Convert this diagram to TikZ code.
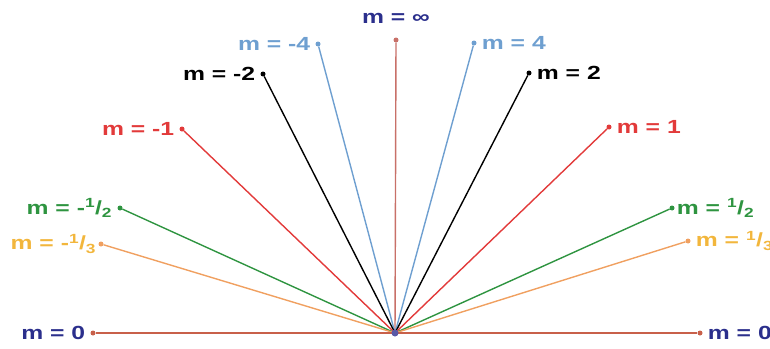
\documentclass[tikz,border=0pt]{standalone}
\usepackage{fontspec}
\setmainfont{Liberation Sans}
\newfontfamily\tagfont[FakeStretch=1.3]{Liberation Sans}
\usepackage{xcolor}
\usetikzlibrary{positioning}
\definecolor{navy}{HTML}{2B2F8C}
\definecolor{infline}{HTML}{C87068}
\definecolor{zeroline}{HTML}{C8604A}
\definecolor{skyblue}{HTML}{6E9FD0}
\definecolor{redline}{HTML}{E23A3A}
\definecolor{greenline}{HTML}{2E9440}
\definecolor{orangeline}{HTML}{F0A060}
\definecolor{orangetext}{HTML}{F2B63C}
\tikzset{
    slope/.style={line width=1.4pt},
    dot/.style={circle, fill, inner sep=0pt, minimum size=5pt},
    tag/.style={font=\tagfont\fontsize{19}{21}\selectfont\bfseries, inner sep=1pt},
}

\begin{document}
\begin{tikzpicture}[x=1pt, y=-1pt, node distance=4pt]
    \useasboundingbox (0,0) rectangle (770,348);
    \clip (0,0) rectangle (770,348);
    \coordinate (o) at (395,333);

    % end points
    \node[dot, infline] (pinf) at (396,40) {};
    \node[dot, skyblue] (pfour) at (474,43) {};
    \node[dot, skyblue] (mfour) at (318,44) {};
    \node[dot, black] (ptwo) at (529,73) {};
    \node[dot, black] (mtwo) at (263,74) {};
    \node[dot, redline] (pone) at (609,127) {};
    \node[dot, redline] (mone) at (182,129) {};
    \node[dot, greenline] (phalf) at (672,208) {};
    \node[dot, greenline] (mhalf) at (120,208) {};
    \node[dot, orangeline] (pthird) at (688,241) {};
    \node[dot, orangeline] (mthird) at (101,244) {};
    \node[dot, zeroline] (pzero) at (700,333) {};
    \node[dot, zeroline] (mzero) at (93,333) {};

    % labels
    \node[tag, navy, above=13pt of pinf] (linf) {m = ∞};
    \node[tag, skyblue, right=of pfour] (lpfour) {m = 4};
    \node[tag, skyblue, left=of mfour] (lmfour) {m = -4};
    \node[tag, black, right=of ptwo] (lptwo) {m = 2};
    \node[tag, black, left=of mtwo] (lmtwo) {m = -2};
    \node[tag, redline, right=of pone] (lpone) {m = 1};
    \node[tag, redline, left=of mone] (lmone) {m = -1};
    \node[tag, greenline, right=1pt of phalf] (lphalf) {m = \textsuperscript{1}/\textsubscript{2}};
    \node[tag, greenline, left=of mhalf] (lmhalf) {m = -\textsuperscript{1}/\textsubscript{2}};
    \node[tag, orangetext, right=of pthird] (lpthird) {m = \textsuperscript{1}/\textsubscript{3}};
    \node[tag, orangetext, left=1pt of mthird] (lmthird) {m = -\textsuperscript{1}/\textsubscript{3}};
    \node[tag, navy, right=of pzero] (lpzero) {m = 0};
    \node[tag, navy, left=of mzero] (lmzero) {m = 0};

    % lines from the origin
    \draw[slope, infline] (o) -- (pinf);
    \draw[slope, skyblue] (o) -- (pfour);
    \draw[slope, skyblue] (o) -- (mfour);
    \draw[slope, black] (o) -- (ptwo);
    \draw[slope, black] (o) -- (mtwo);
    \draw[slope, redline] (o) -- (pone);
    \draw[slope, redline] (o) -- (mone);
    \draw[slope, greenline] (o) -- (phalf);
    \draw[slope, greenline] (o) -- (mhalf);
    \draw[slope, orangeline] (o) -- (pthird);
    \draw[slope, orangeline] (o) -- (mthird);
    \draw[slope, zeroline] (o) -- (pzero);
    \draw[slope, zeroline] (o) -- (mzero);

    \node[dot, fill=gray!70!blue, minimum size=7pt] (origin) at (o) {};
\end{tikzpicture}
\end{document}
